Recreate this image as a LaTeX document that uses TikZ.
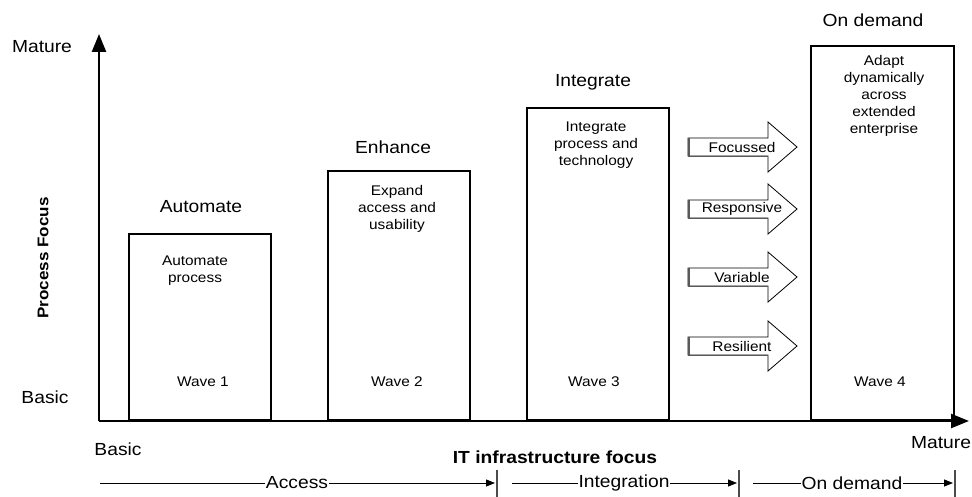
\documentclass[tikz,border=0pt]{standalone}
\usepackage{fontspec}
\setmainfont[FakeStretch=1.1]{Liberation Sans}
\usetikzlibrary{arrows.meta}
\begin{document}
\begin{tikzpicture}[x=1pt,y=-1pt,
  title/.style={font=\fontsize{17.5}{20}\selectfont, inner sep=0pt},
  inner/.style={font=\fontsize{14}{17}\selectfont, align=center, inner sep=0pt},
  wavebox/.style={draw, line width=2pt, anchor=south west, inner sep=0pt, minimum width=142pt},
  axis/.style={line width=2.5pt, -{Triangle[length=18pt,width=14pt]}},
  phase/.style={line width=0.8pt, -{Triangle[length=9pt,width=7pt]}},
  tick/.style={line width=1.2pt, draw=black!70},
  plabel/.style={font=\fontsize{17.5}{20}\selectfont, fill=white, inner xsep=0.5pt, inner ysep=1pt},
  blk/.style={draw, line width=0.8pt, fill=white},
  blkshadow/.style={draw=black!65, line width=1.8pt},
  blklabel/.style={font=\fontsize{14}{17}\selectfont, inner sep=0pt},
]
\useasboundingbox (0,0) rectangle (972,497);

% axes
\coordinate (O) at (99,421);
\coordinate (ytop) at (99,34);
\coordinate (xend) at (969,421);
\draw[axis] (O) -- (ytop);
\draw[axis] (O) -- (xend);

% axis labels
\node[title] (ymat) at (42,47) {Mature};
\node[title] (ybas) at (45,397) {Basic};
\node[title] (xbas) at (118,449) {Basic};
\node[title] (xmat) at (941,443) {Mature};
\node[font=\bfseries\fontsize{15.5}{18}\selectfont, rotate=90, inner sep=0pt] (pf) at (43,258) {Process Focus};
\node[font=\bfseries\fontsize{17.5}{20}\selectfont, inner sep=0pt] (itf) at (555,457) {IT infrastructure focus};

% wave boxes
\node[wavebox, minimum height=186pt] (b1) at (128,421) {};
\node[wavebox, minimum height=249pt] (b2) at (327,421) {};
\node[wavebox, minimum height=312pt] (b3) at (526,421) {};
\node[wavebox, minimum height=374pt, minimum width=143pt] (b4) at (810,421) {};

% titles
\node[title] (t1) at (201,207) {Automate};
\node[title] (t2) at (393,147) {Enhance};
\node[title] (t3) at (593,82) {Integrate};
\node[title] (t4) at (873,20) {On demand};

% inner texts
\node[inner] (i1) at (195,271) {Automate\\process};
\node[inner] (i2) at (397,209) {Expand\\access and\\usability};
\node[inner] (i3) at (596,145) {Integrate\\process and\\technology};
\node[inner] (i4) at (884,96) {Adapt\\dynamically\\across\\extended\\enterprise};

\node[inner] (w1) at (203,382) {Wave 1};
\node[inner] (w2) at (397,382) {Wave 2};
\node[inner] (w3) at (594,382) {Wave 3};
\node[inner] (w4) at (880,382) {Wave 4};

% block arrows
\foreach \n/\yy/\t in {foc/147/Focussed, res/209/Responsive, var/277/Variable, resi/346/Resilient}{
  \draw[blk] (688,\yy-9) -- (768,\yy-9) -- (768,\yy-25) -- (797,\yy) -- (768,\yy+25) -- (768,\yy+9) -- (688,\yy+9) -- cycle;
  \draw[blkshadow] (689,\yy-9) -- (689,\yy+9.5) -- (768,\yy+9.5);
  \node[blklabel] (arr\n) at (742,\yy) {\t};
}

% phase arrows
\coordinate (a0) at (100,483);
\coordinate (a1) at (495,483);
\coordinate (g0) at (512,483);
\coordinate (g1) at (737,483);
\coordinate (d0) at (753,483);
\coordinate (d1) at (953,483);
\draw[phase] (a0) -- (a1);
\draw[phase] (g0) -- (g1);
\draw[phase] (d0) -- (d1);
\coordinate (k1a) at (497,470); \coordinate (k1b) at (497,497);
\coordinate (k2a) at (739,470); \coordinate (k2b) at (739,497);
\coordinate (k3a) at (955,470); \coordinate (k3b) at (955,497);
\draw[tick] (k1a) -- (k1b);
\draw[tick] (k2a) -- (k2b);
\draw[tick] (k3a) -- (k3b);
\node[plabel] (lacc) at (297,483) {Access};
\node[plabel] (lint) at (624,483) {Integration};
\node[plabel] (lond) at (852,483) {On demand};
\end{tikzpicture}
\end{document}
